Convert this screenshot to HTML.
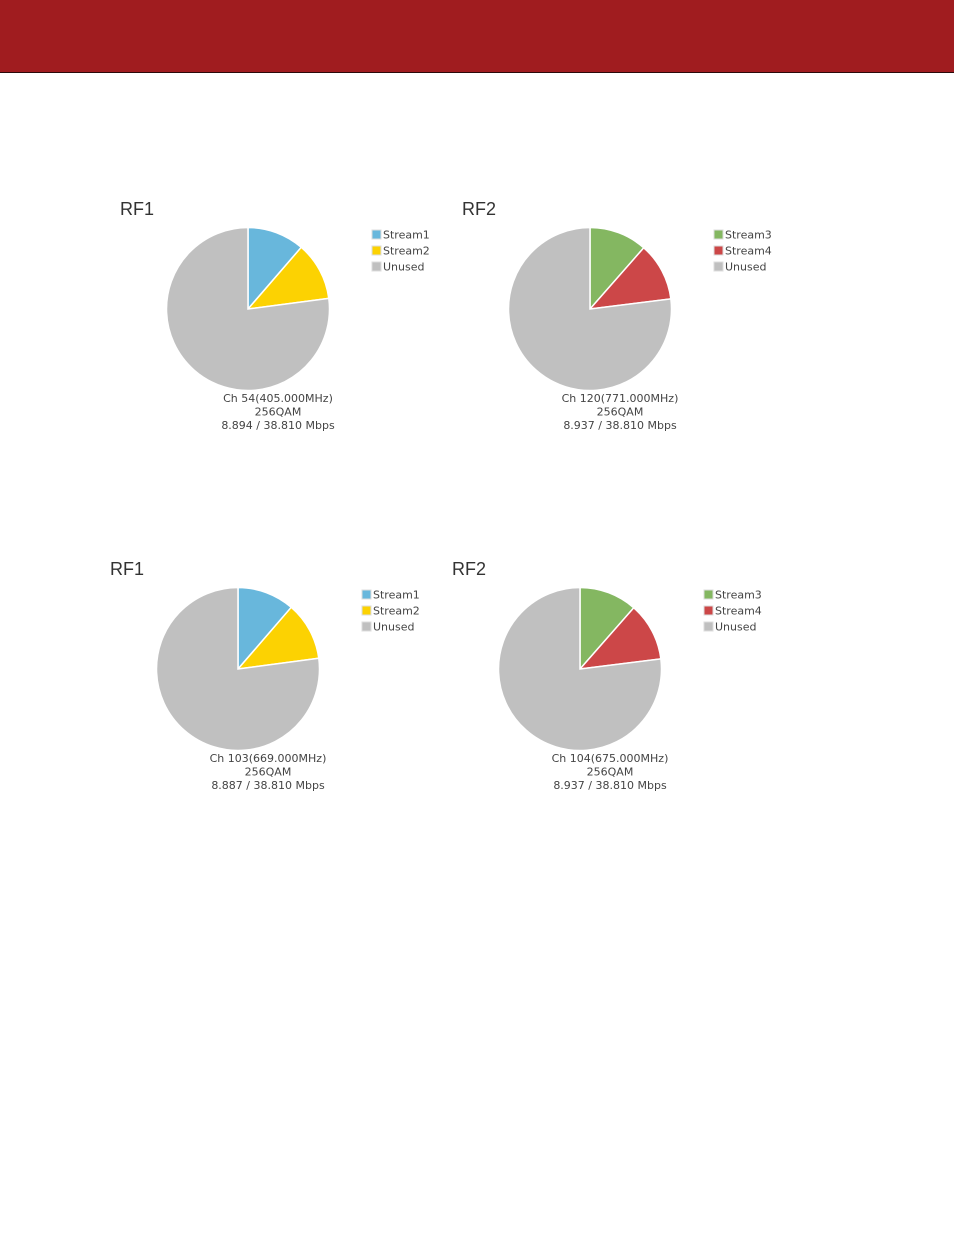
<!DOCTYPE html>
<html><head><meta charset="utf-8"><style>
body{margin:0;width:954px;height:1235px;background:#fff;overflow:hidden;position:relative;font-family:"DejaVu Sans","Liberation Sans",sans-serif;}
#hdr{position:absolute;left:0;top:0;width:954px;height:72px;background:#a01c1f;border-bottom:1.5px solid #2a0a0a;}
svg{position:absolute;left:0;top:0;}
</style></head><body>
<div id="hdr"></div>
<svg id="s" width="954" height="1235"></svg>
<script>
const titles=["RF1","RF2","RF1","RF2"];
const streamNames=[["Stream1","Stream2","Unused"],["Stream3","Stream4","Unused"],["Stream1","Stream2","Unused"],["Stream3","Stream4","Unused"]];
const streamA=[4.40,4.45,4.40,4.45];
const streamB=[4.494,4.487,4.487,4.487];
const capacity=[38.810,38.810,38.810,38.810];
const channelLabels=["Ch 54(405.000MHz)","Ch 120(771.000MHz)","Ch 103(669.000MHz)","Ch 104(675.000MHz)"];
const modLabels=["256QAM","256QAM","256QAM","256QAM"];
const rateLabels=["8.894 / 38.810 Mbps","8.937 / 38.810 Mbps","8.887 / 38.810 Mbps","8.937 / 38.810 Mbps"];
const colorSets=[["#68b7dc","#fcd202","#c0c0c0"],["#84b761","#cc4748","#c0c0c0"],["#68b7dc","#fcd202","#c0c0c0"],["#84b761","#cc4748","#c0c0c0"]];
const centers=[[248,309],[590,309],[238,669],[580,669]];
const R=81.5;
const NS="http://www.w3.org/2000/svg";
const svg=document.getElementById('s');
function mk(t,a,p){const e=document.createElementNS(NS,t);for(const k in a)e.setAttribute(k,a[k]);(p||svg).appendChild(e);return e;}
function pt(cx,cy,ang){return [cx+R*Math.sin(ang),cy-R*Math.cos(ang)];}
for(let i=0;i<4;i++){
  const [cx,cy]=centers[i];
  const g=mk('g',{});
  
  
  const t=mk('text',{x:cx-128,y:cy-94,'font-size':18,fill:'#333','font-family':'Liberation Sans, sans-serif'},g);
  t.textContent=titles[i];
  
  
  const vals=[streamA[i],streamB[i],capacity[i]-streamA[i]-streamB[i]];
  let a0=0;
  vals.forEach((v,j)=>{
    const a1=a0+v/capacity[i]*2*Math.PI;
    const [x0,y0]=pt(cx,cy,a0),[x1,y1]=pt(cx,cy,a1);
    const large=(a1-a0)>Math.PI?1:0;
    const p=mk('path',{d:`M${cx},${cy}L${x0},${y0}A${R},${R} 0 ${large} 1 ${x1},${y1}Z`,fill:colorSets[i][j],stroke:'#fff','stroke-width':1.5},g);
    
    
    a0=a1;
  });
  streamNames[i].forEach((n,j)=>{
    const lx=cx+124,ly=cy-75+j*16;
    const r=mk('rect',{x:lx,y:ly-4,width:9,height:9,fill:colorSets[i][j],stroke:'#ddd','stroke-width':1},g);
    
    
    const tx=mk('text',{x:lx+11,y:ly+4.5,'font-size':11,fill:'#444'},g);
    tx.textContent=n;
    
    
  });
  [channelLabels[i],modLabels[i],rateLabels[i]].forEach((s,j)=>{
    const tx=mk('text',{x:cx+30,y:cy+93+j*13.5,'font-size':11,fill:'#444','text-anchor':'middle'},g);
    tx.textContent=s;
    
    
  });
}
</script>
</body></html>
